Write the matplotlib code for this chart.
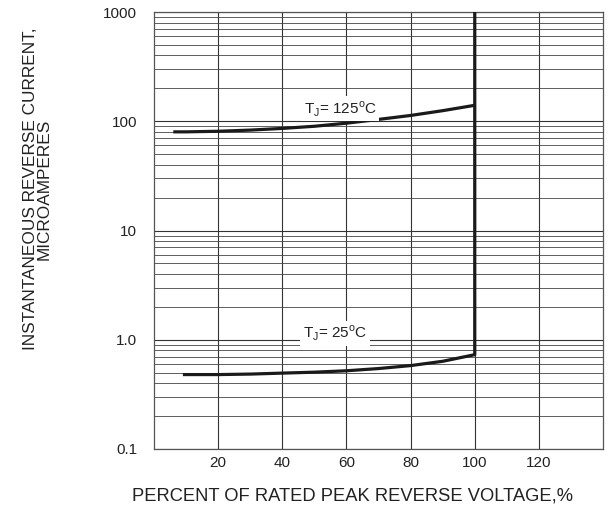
import matplotlib.pyplot as plt
import matplotlib.ticker as mticker

plt.rcParams['font.family'] = ['Liberation Sans', 'DejaVu Sans']

# values
x_125 = [6, 10, 20, 30, 40, 50, 60, 70, 80, 90, 100]
y_125 = [80, 80, 81, 83, 86, 90, 96, 104, 113, 125, 140]
x_25 = [9, 20, 30, 40, 50, 60, 70, 80, 90, 100, 100]
y_25 = [0.48, 0.48, 0.485, 0.495, 0.505, 0.52, 0.545, 0.58, 0.635, 0.73, 1000]
x_ticks = [20, 40, 60, 80, 100, 120]
y_ticks = [0.1, 1, 10, 100, 1000]
y_tick_labels = ['0.1', '1.0', '10', '100', '1000']

fig = plt.figure(figsize=(6.09, 5.07), dpi=100)
ax = fig.add_axes([0.2529, 0.1144, 0.7373, 0.8619])

ax.set_yscale('log')
ax.set_xlim(0, 140)
ax.set_ylim(0.1, 1000)

ax.set_xticks(x_ticks)
ax.set_yticks(y_ticks)
ax.set_yticklabels(y_tick_labels)
ax.yaxis.set_minor_locator(mticker.LogLocator(base=10, subs=range(2, 10)))
ax.yaxis.set_minor_formatter(mticker.NullFormatter())
ax.tick_params(which='both', length=0, labelsize=11, colors='#222222')
ax.tick_params(axis='x', pad=5)
ax.tick_params(axis='y', pad=12)

ax.grid(True, which='major', axis='both', color='#333333', linewidth=0.8)
ax.grid(True, which='minor', axis='y', color='#444444', linewidth=0.6)
ax.set_axisbelow(True)
for s in ax.spines.values():
    s.set_color('#555555')
    s.set_linewidth(0.9)

ax.plot(x_125, y_125, color='#1a1a1a', linewidth=2.3, solid_capstyle='butt', zorder=3)
ax.plot(x_25, y_25, color='#1a1a1a', linewidth=2.3, solid_capstyle='butt', zorder=3)

box = dict(facecolor='white', edgecolor='none', pad=2)
ax.text(58, 130, r'T$_\mathregular{J}$= 125$^\mathregular{o}$C', ha='center', va='center',
        fontsize=11, color='#222222', bbox=box, zorder=4)
ax.text(56.5, 1.15, r'T$_\mathregular{J}$= 25$^\mathregular{o}$C', ha='center', va='center',
        fontsize=11, color='#222222', bbox=box, zorder=4)

ax.set_xlabel('PERCENT OF RATED PEAK REVERSE VOLTAGE,%', fontsize=13.2, color='#222222')
ax.xaxis.set_label_coords(0.443, -0.089)
ax.set_ylabel('INSTANTANEOUS REVERSE CURRENT,\nMICROAMPERES', fontsize=12.4, color='#222222',
              linespacing=0.85)
ax.yaxis.set_label_coords(-0.228, 0.595)

fig.savefig('out.png', dpi=100)
